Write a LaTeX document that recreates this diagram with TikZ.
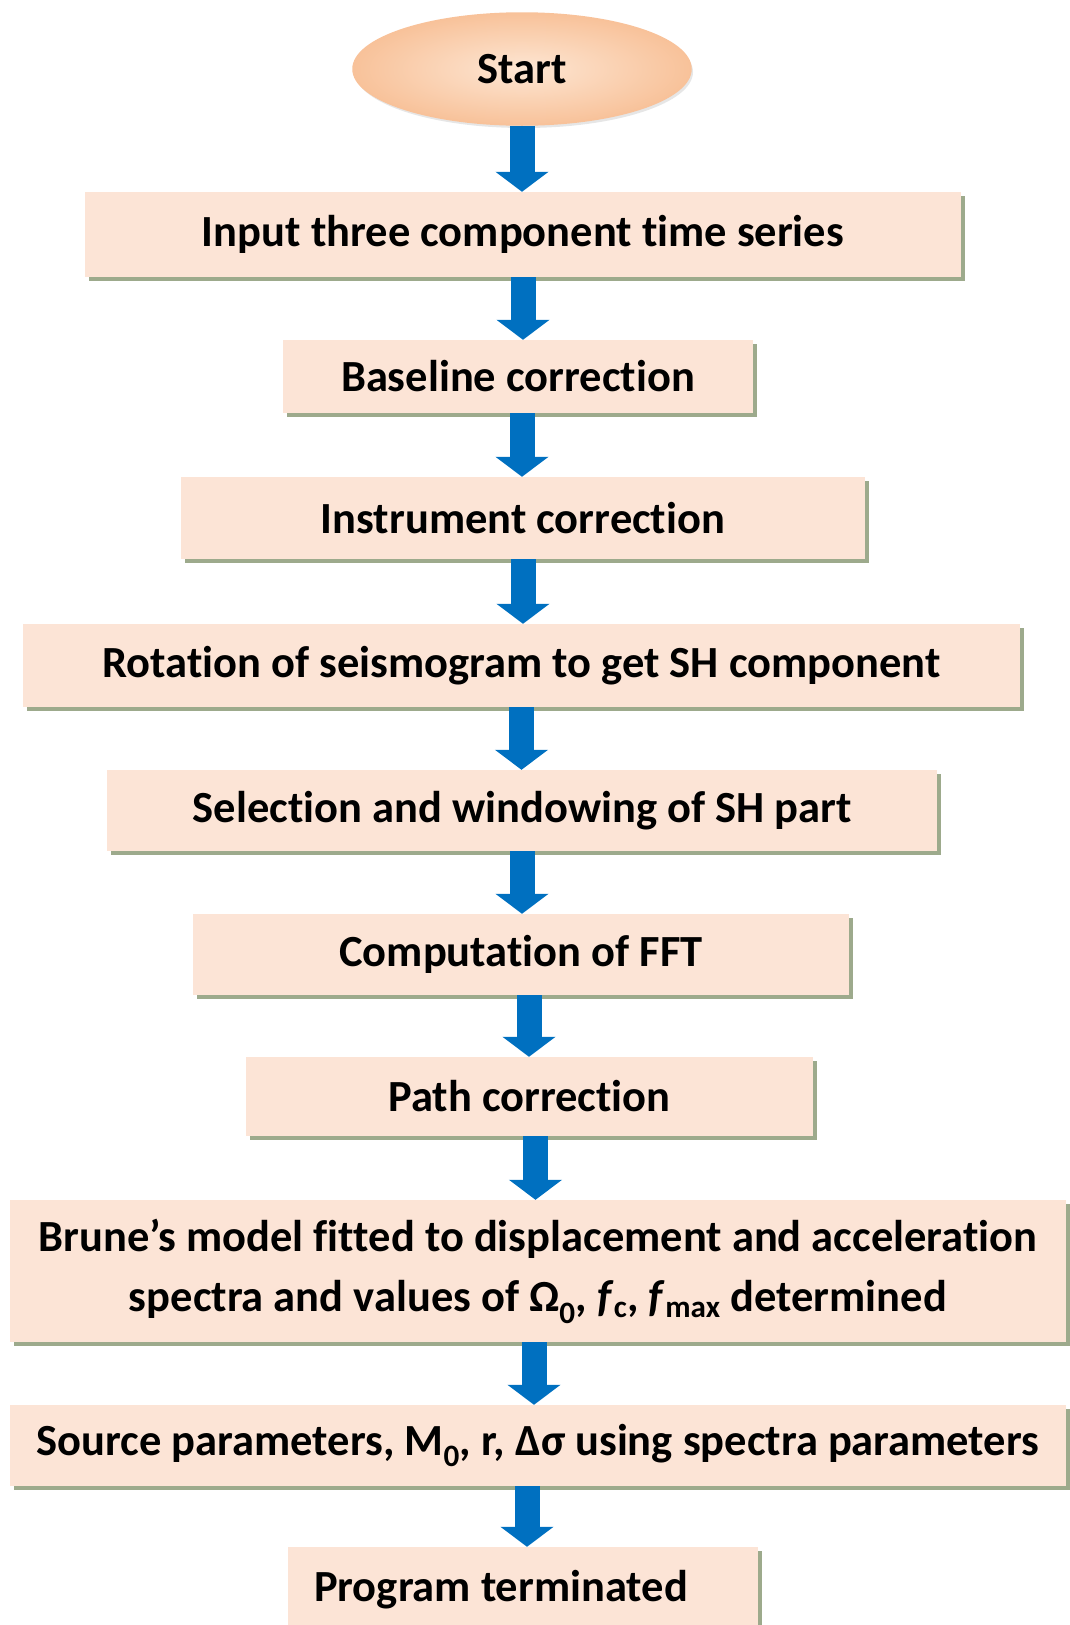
\documentclass[tikz,border=0pt]{standalone}
\usepackage{fontspec}
\setmainfont{Carlito}[Ligatures=NoCommon]
\usepackage{tikz}
\usetikzlibrary{positioning, shapes.geometric, shadows, arrows.meta}

\definecolor{boxfill}{HTML}{FCE4D6}
\definecolor{boxshade}{HTML}{9DAA8C}
\definecolor{ovalin}{HTML}{FDE6D3}
\definecolor{ovalout}{HTML}{F8C29A}
\definecolor{arrowblue}{HTML}{0070C0}

\tikzset{
  procbox/.style={rectangle, fill=boxfill, inner sep=0pt, align=center,
    font=\fontsize{44.5}{53}\selectfont\bfseries,
    drop shadow={shadow xshift=4pt, shadow yshift=-4pt, fill=boxshade, opacity=1}},
  startoval/.style={ellipse, inner color=ovalin, outer color=ovalout, draw=ovalout,
    line width=1.5pt, minimum width=338pt, minimum height=112pt,
    font=\fontsize{44.5}{53}\selectfont\bfseries,
    drop shadow={shadow xshift=2pt, shadow yshift=-3pt, opacity=0.2}},
  flowarrow/.style={draw=arrowblue, line width=25pt,
    -{Triangle[width=52pt, length=20pt]}}
}

\begin{document}
\begin{tikzpicture}[x=1pt, y=-1pt]
  \useasboundingbox (0,0) rectangle (1070,1625);
  \begin{scope}
    \clip (0,0) rectangle (1070,1625);
    \node[startoval] (start) at (522,69) {Start};
    \node[procbox, minimum width=876pt, minimum height=85pt] (input) at (523,234.5)
      {Input three component time series};
    \node[procbox, minimum width=470pt, minimum height=73pt] (baseline) at (518,376.5)
      {Baseline correction};
    \node[procbox, minimum width=684pt, minimum height=82pt] (instrument) at (523,518)
      {Instrument correction};
    \node[procbox, minimum width=997pt, minimum height=83pt] (rotation) at (521.5,665.5)
      {Rotation of seismogram to get SH component};
    \node[procbox, minimum width=830pt, minimum height=81pt] (selection) at (522,810.5)
      {Selection and windowing of SH part};
    \node[procbox, minimum width=656pt, minimum height=81pt] (fft) at (521,954.5)
      {Computation of FFT};
    \node[procbox, minimum width=567pt, minimum height=79pt] (pathcorr) at (529.5,1096.5)
      {Path correction};
    \node[procbox, minimum width=1056pt, minimum height=142pt,
      font=\fontsize{44.5}{60}\selectfont\bfseries] (brune) at (538,1271)
      {Brune’s model fitted to displacement and acceleration\\
       spectra and values of Ω\textsubscript{0}, \textit{f}\textsubscript{c},
       \textit{f}\textsubscript{max} determined};
    \node[procbox, minimum width=1056pt, minimum height=81pt] (source) at (538,1445.5)
      {Source parameters, M\textsubscript{0}, r, Δσ using spectra parameters};
    \node[procbox, minimum width=470pt, minimum height=85pt] (stop) at (523,1589.5)
      {Program terminated\hspace*{44pt}};

    % block arrows
    \draw[flowarrow] (start.south) -- (start.south |- input.north);
    \draw[flowarrow] (input.south) -- (input.south |- baseline.north);
    \draw[flowarrow] ([xshift=4pt]baseline.south) -- ([xshift=4pt]baseline.south |- instrument.north);
    \draw[flowarrow] (instrument.south) -- (instrument.south |- rotation.north);
    \draw[flowarrow] (rotation.south) -- (rotation.south |- selection.north);
    \draw[flowarrow] (selection.south) -- (selection.south |- fft.north);
    \draw[flowarrow] ([xshift=8pt]fft.south) -- ([xshift=8pt]fft.south |- pathcorr.north);
    \draw[flowarrow] ([xshift=6pt]pathcorr.south) -- ([xshift=6pt]pathcorr.south |- brune.north);
    \draw[flowarrow] ([xshift=-4pt]brune.south) -- ([xshift=-4pt]brune.south |- source.north);
    \draw[flowarrow] ([xshift=-11pt]source.south) -- ([xshift=-11pt]source.south |- stop.north);
  \end{scope}
\end{tikzpicture}
\end{document}
